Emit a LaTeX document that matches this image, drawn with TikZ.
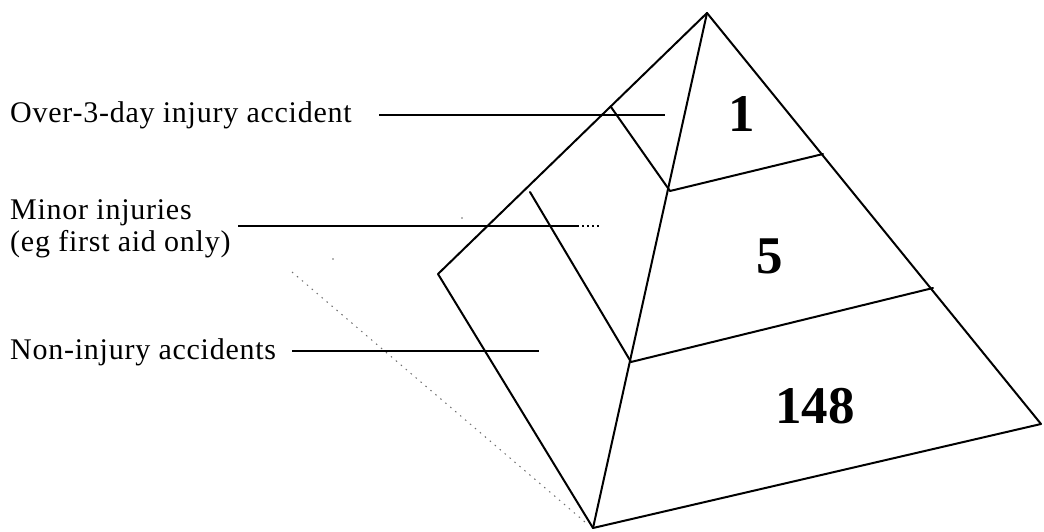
\documentclass[tikz,border=0pt]{standalone}
\usepackage{fontspec}
\setmainfont{Liberation Serif}
\newfontfamily\spacedserif[LetterSpace=2.5]{Liberation Serif}
\usetikzlibrary{positioning}
\definecolor{inkdot}{HTML}{6E6E6E}
\tikzset{
  ridge/.style={line width=2pt, line join=round, line cap=round},
  leader/.style={line width=1.1pt},
  tag/.style={anchor=west, inner sep=0pt, align=left, font=\spacedserif\fontsize{30}{32}\selectfont},
  tally/.style={inner sep=0pt, font=\fontsize{53}{53}\selectfont\bfseries},
}

\begin{document}
\begin{tikzpicture}[x=1pt, y=-1pt]
  \useasboundingbox (0,0) rectangle (1044,532);
  \coordinate (apex) at (707,13);
  \coordinate (lt) at (611,107);
  \coordinate (lm) at (530,192);
  \coordinate (lc) at (438,274);
  \coordinate (ft) at (670,191);
  \coordinate (fm) at (631,362);
  \coordinate (fb) at (593,528);
  \coordinate (rt) at (823,154);
  \coordinate (rm) at (933,288);
  \coordinate (rb) at (1041,424);

  \draw[inkdot, line width=1pt, dash pattern=on 1.5pt off 5pt] (292,272) -- (585,522);
  \fill[inkdot] (333,259) circle (0.8pt) (462,218) circle (0.8pt);

  \draw[ridge] (lc) -- (apex) -- (rb) -- (fb) -- cycle;
  \draw[ridge] (apex) -- (fb);
  \draw[ridge] (lt) -- (ft) -- (rt);
  \draw[ridge] (lm) -- (fm) -- (rm);

  \node[tag] (over) at (10,115) {Over-3-day injury accident};
  \node[tag] (minor) at (10,229) {Minor injuries\\(eg first aid only)};
  \node[tag] (non) at (10,352) {Non-injury accidents};

  \coordinate (over a) at (379,115);
  \coordinate (over b) at (665,115);
  \coordinate (minor a) at (238,226);
  \coordinate (minor b) at (577,226);
  \coordinate (minor c) at (600,226);
  \coordinate (non a) at (292,351);
  \coordinate (non b) at (539,351);

  \draw[leader] (over a) -- (over b);
  \draw[leader] (minor a) -- (minor b);
  \draw[leader, dash pattern=on 2pt off 3pt] (minor b) -- (minor c);
  \draw[line width=2.4pt] (332,226) -- (380,226);
  \draw[leader] (non a) -- (non b);
  \draw[line width=2.4pt] (330,351) -- (353,351);

  \node[tally] (one) at (742,114) {1};
  \node[tally] (five) at (770,256) {5};
  \node[tally] (big) at (815,406) {148};
\end{tikzpicture}
\end{document}
